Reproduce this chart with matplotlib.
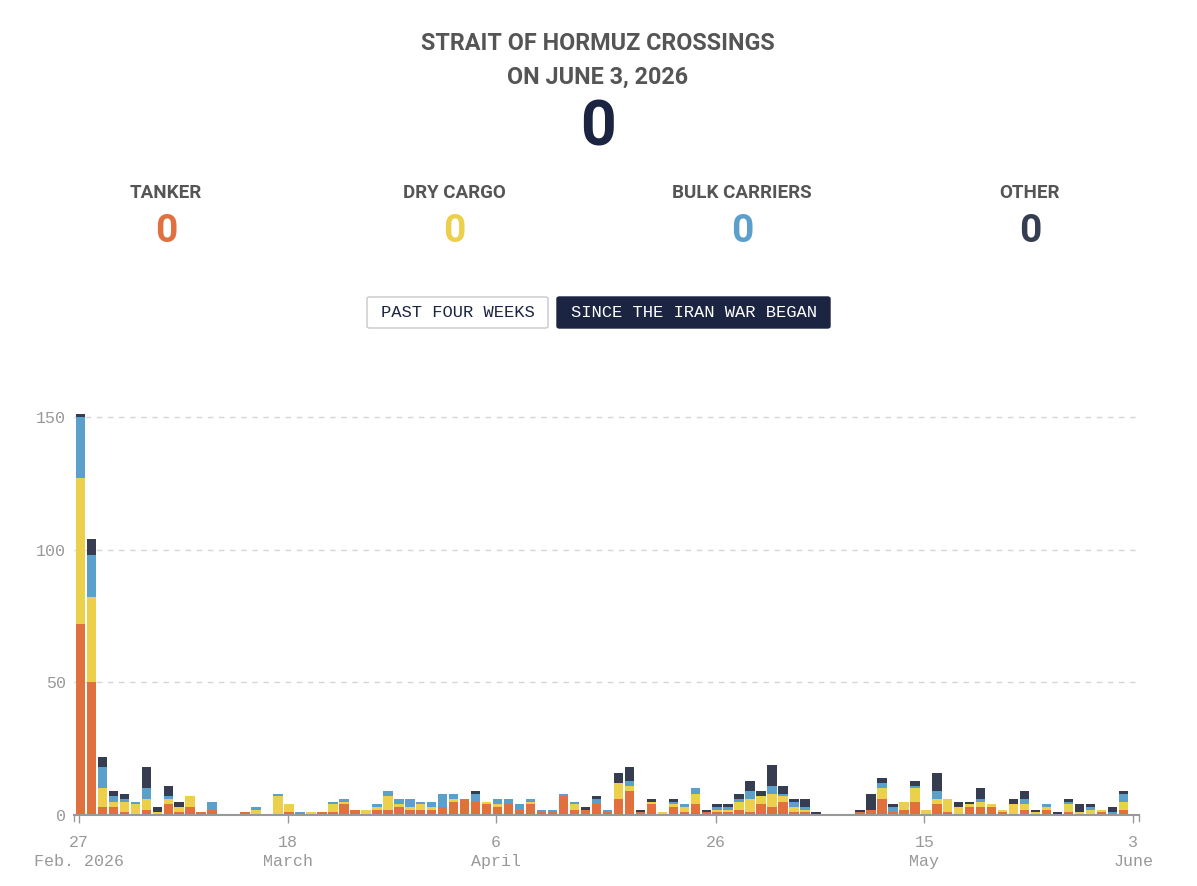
import numpy as np
import pandas as pd
import matplotlib
matplotlib.use("Agg")
import matplotlib.pyplot as plt
from matplotlib.patches import FancyBboxPatch

# daily crossings since Feb 27, 2026
days = pd.date_range("2026-02-27", periods=96, freq="D")
tanker = [72, 50, 3, 3, 1, 0, 2, 0, 4, 1, 3, 1, 2, 0, 0, 1, 0, 0, 0, 1,
          0, 0, 1, 1, 4, 2, 0, 2, 2, 3, 2, 2, 2, 3, 5, 6, 5, 4, 3, 4,
          2, 4, 1, 1, 7, 2, 2, 4, 1, 6, 9, 1, 4, 0, 3, 1, 4, 1, 1, 1,
          2, 1, 4, 3, 5, 1, 1, 0, 0, 0, 0, 1, 2, 6, 1, 2, 5, 0, 4, 1,
          0, 3, 3, 3, 1, 0, 2, 0, 2, 0, 1, 0, 0, 1, 0, 2]
dry_cargo = [55, 32, 7, 2, 4, 4, 4, 1, 2, 2, 4, 0, 0, 0, 0, 0, 2, 0, 7, 3,
             0, 1, 0, 3, 1, 0, 2, 1, 5, 1, 1, 2, 1, 0, 1, 0, 0, 1, 1, 0,
             0, 1, 0, 0, 0, 2, 0, 0, 0, 6, 2, 0, 1, 1, 1, 2, 4, 0, 1, 1,
             3, 5, 3, 5, 2, 2, 1, 0, 0, 0, 0, 0, 0, 4, 0, 3, 5, 2, 2, 5,
             3, 1, 2, 1, 1, 4, 2, 1, 1, 0, 3, 1, 2, 1, 0, 3]
bulk = [23, 16, 8, 2, 1, 1, 4, 0, 1, 0, 0, 0, 3, 0, 0, 0, 1, 0, 1, 0,
        1, 0, 0, 1, 1, 0, 0, 1, 2, 2, 3, 1, 2, 5, 2, 0, 3, 0, 2, 2,
        2, 1, 1, 1, 1, 1, 0, 2, 1, 0, 2, 0, 0, 0, 1, 1, 2, 0, 1, 1,
        1, 3, 0, 3, 1, 2, 1, 0, 0, 0, 0, 0, 0, 2, 2, 0, 1, 0, 3, 0,
        0, 0, 1, 0, 0, 0, 2, 0, 1, 0, 1, 0, 1, 0, 1, 3]
other = [1, 6, 4, 2, 2, 0, 8, 2, 4, 2, 0, 0, 0, 0, 0, 0, 0, 0, 0, 0,
         0, 0, 0, 0, 0, 0, 0, 0, 0, 0, 0, 0, 0, 0, 0, 0, 1, 0, 0, 0,
         0, 0, 0, 0, 0, 0, 1, 1, 0, 4, 5, 1, 1, 0, 1, 0, 0, 1, 1, 1,
         2, 4, 2, 8, 3, 1, 3, 1, 0, 0, 0, 1, 6, 2, 1, 0, 2, 0, 7, 0,
         2, 1, 4, 0, 0, 2, 3, 1, 0, 1, 1, 3, 1, 0, 2, 1]

categories = ["TANKER", "DRY CARGO", "BULK CARRIERS", "OTHER"]
today_counts = [0, 0, 0, 0]
colors = ["#e0703d", "#eccf4a", "#5b9fcb", "#363d50"]
tick_dates = ["2026-02-27", "2026-03-18", "2026-04-06", "2026-04-26", "2026-05-15", "2026-06-03"]
tick_labels = ["27\nFeb. 2026", "18\nMarch", "6\nApril", "26", "15\nMay", "3\nJune"]

W, H = 1197, 886
fig = plt.figure(figsize=(W / 100, H / 100), dpi=100)

def fx(x):
    return x / W

def fy(y):
    return 1 - y / H

mono = ["Liberation Mono", "DejaVu Sans Mono"]

# header
fig.text(fx(598), fy(44), "STRAIT OF HORMUZ CROSSINGS", ha="center", va="center",
         fontsize=16.8, fontweight="bold", family=["Roboto"], color="#555555")
fig.text(fx(598), fy(77), "ON JUNE 3, 2026", ha="center", va="center",
         fontsize=16.8, fontweight="bold", family=["Roboto"], color="#555555")
fig.text(fx(598), fy(129), str(sum(today_counts)), ha="center", va="center",
         fontsize=45, fontweight="bold", family=["Roboto"], color="#1b2440")

xs = [166, 454, 742, 1030]
for x, cat, val, c in zip(xs, categories, today_counts, colors):
    fig.text(fx(x), fy(193), cat, ha="center", va="center", fontsize=13.5,
             fontweight="bold", family=["Roboto"], color="#555555")
    fig.text(fx(x), fy(231), str(val), ha="center", va="center", fontsize=28,
             fontweight="bold", family=["Roboto"], color=c)

# toggle buttons
b1 = FancyBboxPatch((fx(367), fy(328)), fx(548) - fx(367), fy(297) - fy(328),
                    boxstyle="round,pad=0,rounding_size=0.002", transform=fig.transFigure,
                    facecolor="white", edgecolor="#c8c8c8", linewidth=1)
b2 = FancyBboxPatch((fx(557), fy(328)), fx(830) - fx(557), fy(297) - fy(328),
                    boxstyle="round,pad=0,rounding_size=0.002", transform=fig.transFigure,
                    facecolor="#1b2440", edgecolor="#1b2440", linewidth=1)
fig.patches.extend([b1, b2])
fig.text(fx(457.5), fy(312.5), "PAST FOUR WEEKS", ha="center", va="center",
         fontsize=12.3, family=mono, color="#1b2440")
fig.text(fx(693.5), fy(312.5), "SINCE THE IRAN WAR BEGAN", ha="center", va="center",
         fontsize=12.3, family=mono, color="white")

# chart
ymax = 152
top_px = 815 - ymax * (815 - 417) / 150
ax = fig.add_axes([fx(74), fy(815), fx(1139) - fx(74), fy(top_px) - fy(815)])

bottom = np.zeros(len(days))
shift = pd.Timedelta(hours=3)
for vals, c in zip([tanker, dry_cargo, bulk, other], colors):
    ax.bar(days + shift, vals, bottom=bottom, width=0.86, color=c, linewidth=0, zorder=3)
    bottom += np.array(vals)

start = days[0]
end = pd.Timestamp("2026-06-03")
ax.set_xlim(start - pd.Timedelta(hours=11), end + pd.Timedelta(hours=13))
ax.set_ylim(0, ymax)

ax.set_yticks([0, 50, 100, 150])
for v in [50, 100, 150]:
    ax.axhline(v, color="#d6d6d6", linestyle=(0, (4, 4)), linewidth=1, zorder=1)
ax.tick_params(axis="y", length=0, pad=6, labelsize=12, labelcolor="#999999")

ax.set_xticks(pd.to_datetime(tick_dates))
ax.set_xticklabels(tick_labels)
ax.tick_params(axis="x", length=6, width=1, color="#999999", pad=8.5,
               labelsize=12, labelcolor="#999999")
for lab in ax.get_xticklabels() + ax.get_yticklabels():
    lab.set_family(mono)
    lab.set_linespacing(1.3)

for s in ["top", "right", "left"]:
    ax.spines[s].set_visible(False)
ax.spines["bottom"].set_color("#999999")
ax.spines["bottom"].set_linewidth(1.5)
ax.spines["bottom"].set_zorder(4)

# outer ticks at both ends of the axis line
for xe in ax.get_xlim():
    ax.plot([xe, xe], [0, -2.3], color="#999999", lw=1, clip_on=False, zorder=4)

fig.savefig("out.png", dpi=100, facecolor="white")
